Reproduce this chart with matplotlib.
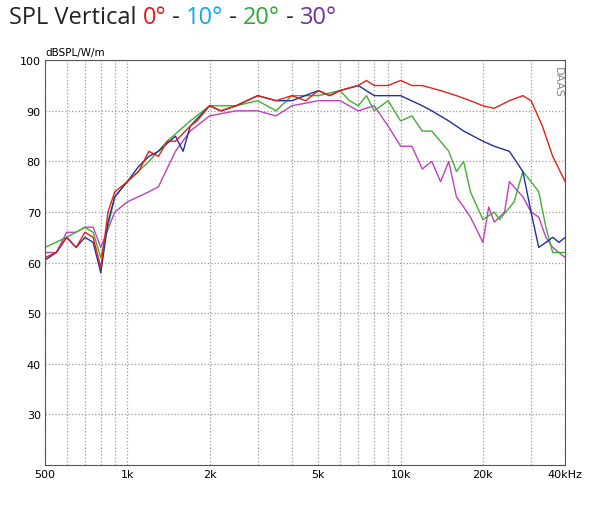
import numpy as np
import matplotlib.pyplot as plt

# frequency response data (Hz, dB)
red_f = [500, 550, 600, 650, 700, 750, 800, 850, 900, 950, 1000, 1100, 1200, 1300, 1400, 1500, 1700, 1800, 2000, 2200,
         2500, 3000, 3500, 4000, 4500, 5000, 5500, 6000, 7000, 7500, 8000, 9000, 10000, 11000, 12000, 14000, 16000,
         18000, 20000, 22000, 25000, 28000, 30000, 33000, 36000, 40000]
red_db = [61, 62, 65, 63, 66, 65, 59, 70, 74, 75, 76, 78, 82, 81, 84, 84, 87, 88, 91, 90,
          91, 93, 92, 93, 92, 94, 93, 94, 95, 96, 95, 95, 96, 95, 95, 94, 93,
          92, 91, 90.5, 92, 93, 92, 87, 81, 76]

blue_f = [500, 550, 600, 650, 700, 750, 800, 850, 900, 1000, 1100, 1200, 1300, 1500, 1600, 1700, 2000, 2200, 2500,
          3000, 3500, 4000, 5000, 5500, 6000, 7000, 8000, 9000, 10000, 12000, 13000, 15000, 17000, 20000, 22000,
          25000, 28000, 30000, 32000, 34000, 36000, 38000, 40000]
blue_db = [60.5, 62, 65, 63, 65, 64, 58, 68, 73, 76, 79, 81, 82, 85, 82, 87, 91, 90, 91,
           93, 92, 92, 94, 93, 94, 95, 93, 93, 93, 91, 90, 88, 86, 84, 83,
           82, 78, 70, 63, 64, 65, 64, 65]

green_f = [500, 600, 700, 750, 800, 900, 1000, 1200, 1400, 1700, 2000, 2500, 3000, 3500, 4000, 5000, 6000, 6500,
           7000, 7500, 8000, 9000, 10000, 11000, 12000, 13000, 15000, 16000, 17000, 18000, 20000, 22000, 23000,
           26000, 28000, 30000, 32000, 34000, 36000, 40000]
green_db = [63, 65, 67, 66, 61, 73, 76, 80, 84, 88, 91, 91, 92, 90, 93, 93, 94, 92,
            91, 93, 90, 92, 88, 89, 86, 86, 82, 78, 80, 74, 68.5, 70, 68.5,
            72, 78, 76, 74, 67, 62, 62]

mag_f = [500, 550, 600, 650, 700, 750, 800, 900, 1000, 1200, 1300, 1500, 1700, 2000, 2500, 3000, 3500, 4000, 5000,
         6000, 7000, 8000, 9000, 10000, 11000, 12000, 13000, 14000, 15000, 16000, 17000, 18000, 20000, 21000, 22000,
         24000, 25000, 28000, 30000, 32000, 34000, 36000, 40000]
mag_db = [62, 62, 66, 66, 67, 67, 63, 70, 72, 74, 75, 82, 86, 89, 90, 90, 89, 91, 92,
          92, 90, 91, 87, 83, 83, 78.5, 80, 76, 80, 73, 71, 69, 64, 71, 68,
          70, 76, 73, 70, 69, 65, 63, 61]

xticks = [500, 1000, 2000, 5000, 10000, 20000, 40000]
xlabels = ['500', '1k', '2k', '5k', '10k', '20k', '40kHz']
yticks = [30, 40, 50, 60, 70, 80, 90, 100]

fig = plt.figure(figsize=(6, 5.06), dpi=100)
ax = fig.add_axes([0.075, 0.079, 0.867, 0.8])

ax.plot(mag_f, mag_db, color='#c040c0', lw=1)
ax.plot(green_f, green_db, color='#40b030', lw=1)
ax.plot(blue_f, blue_db, color='#2030a0', lw=1)
ax.plot(red_f, red_db, color='#e82010', lw=1)

ax.set_xscale('log')
ax.set_xlim(500, 40000)
ax.set_ylim(20, 100)
ax.set_xticks(xticks)
ax.set_xticklabels(xlabels, fontsize=8)
ax.set_xticks([f for f in list(range(600, 1000, 100)) + list(range(2000, 10000, 1000)) + list(range(20000, 40000, 10000))], minor=True)
ax.set_xticklabels([], minor=True)
ax.set_yticks(yticks)
ax.set_yticklabels([str(v) for v in yticks], fontsize=8)
ax.tick_params(length=0, which='both', pad=3)
ax.grid(True, which='both', axis='x', color='#999999', ls=':', lw=0.9)
ax.grid(True, axis='y', color='#999999', ls=':', lw=0.9)
for s in ax.spines.values():
    s.set_color('#555555')

ax.text(0.995, 0.985, 'DAAS', transform=ax.transAxes, rotation=-90, ha='right', va='top',
        fontsize=8, color='#888888')
fig.text(0.075, 0.885, 'dBSPL/W/m', fontsize=7.5, ha='left', va='bottom')

# title with coloured parts
parts = [('SPL Vertical ', '#222222'), ('0°', '#e01818'), (' - ', '#222222'), ('10°', '#10a8e8'),
         (' - ', '#222222'), ('20°', '#30a838'), (' - ', '#222222'), ('30°', '#7030a0')]
x = 0.015
fig.canvas.draw()
r = fig.canvas.get_renderer()
for txt, c in parts:
    t = fig.text(x, 0.965, txt, fontsize=17, color=c, va='center', family='Open Sans')
    bb = t.get_window_extent(renderer=r)
    x += bb.width / fig.bbox.width

fig.savefig('out.png', dpi=100)
